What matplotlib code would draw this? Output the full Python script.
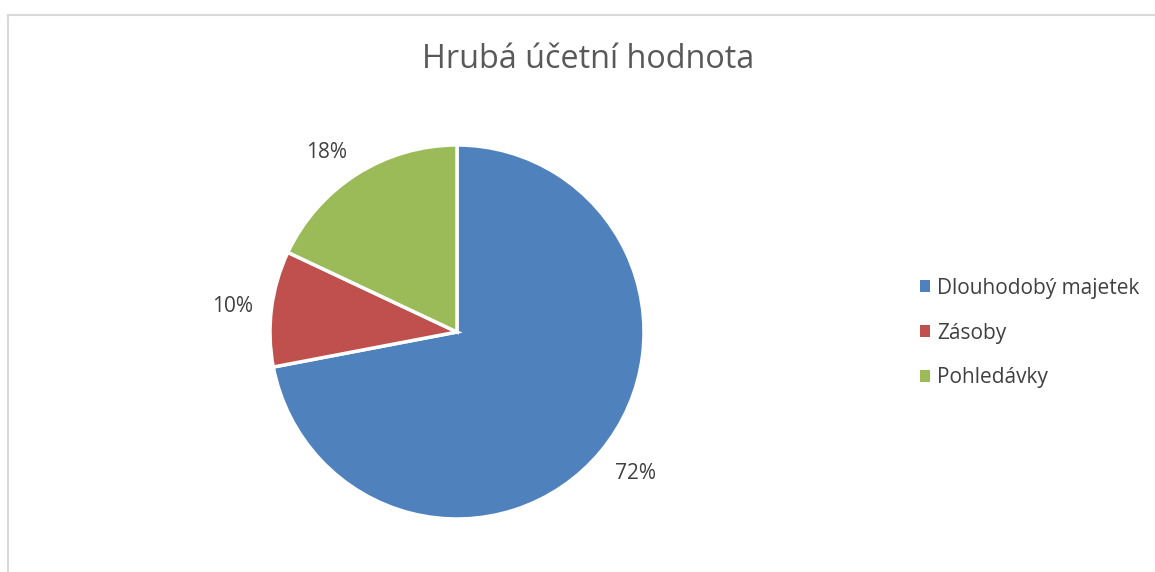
import numpy as np
import matplotlib.pyplot as plt
from matplotlib.patches import Patch
from matplotlib.lines import Line2D

# --- data ---
categories = ["Dlouhodobý majetek", "Zásoby", "Pohledávky"]
shares = [72, 10, 18]
colors = ["#4F81BD", "#C0504D", "#9BBB59"]
title = "Hrubá účetní hodnota"

plt.rcParams["font.family"] = ["Open Sans", "DejaVu Sans"]

W, H = 1155, 572
fig = plt.figure(figsize=(W / 100, H / 100), dpi=100)

# chart border (top + left only visible)
fig.add_artist(Line2D([7.5 / W, 7.5 / W], [0, 1 - 14.5 / H], color="#d9d9d9", lw=1.5))
fig.add_artist(Line2D([7.5 / W, 1], [1 - 14.5 / H, 1 - 14.5 / H], color="#d9d9d9", lw=1.5))

cx, cy, r = 457, 332, 187
ax = fig.add_axes([(cx - r) / W, (H - cy - r) / H, 2 * r / W, 2 * r / H])
wedges, _ = ax.pie(
    shares, colors=colors, startangle=90, counterclock=False,
    wedgeprops=dict(edgecolor="white", linewidth=2.5),
)
ax.set_xlim(-1, 1)
ax.set_ylim(-1, 1)
ax.set_aspect("equal")

# outside-end labels, box corner anchored just beyond the wedge mid-angle
total = sum(shares)
for w, v in zip(wedges, shares):
    a = np.deg2rad((w.theta1 + w.theta2) / 2)
    c, s = np.cos(a), np.sin(a)
    ha = "right" if c < 0 else "left"
    if abs(s) < 0.3:
        va = "center"
    else:
        va = "baseline" if s > 0 else "top"
    ax.text(1.1 * c, 1.1 * s, f"{100 * v / total:.0f}%", ha=ha, va=va,
            fontsize=15, color="#404040")

fig.text(588 / W, 1 - 60 / H, title, ha="center", va="center", fontsize=23.3, color="#595959")

handles = [Patch(facecolor=c, edgecolor="none") for c in colors]
fig.legend(handles, categories, loc="center left", bbox_to_anchor=(920 / W, 1 - 333 / H),
           frameon=False, fontsize=15, handlelength=0.48, handleheight=0.48,
           handletextpad=0.34, labelspacing=1.15, borderpad=0, borderaxespad=0,
           labelcolor="#404040")

fig.savefig("out.png", dpi=100)
